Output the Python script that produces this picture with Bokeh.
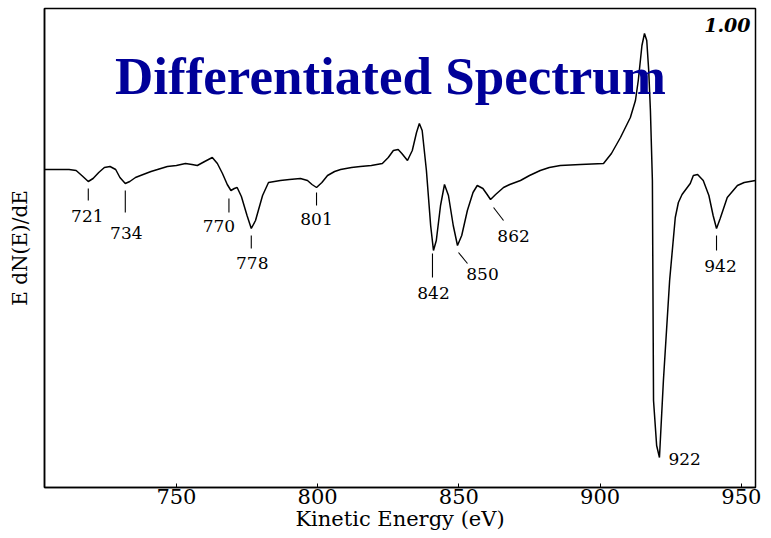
from bokeh.plotting import figure
from bokeh.models import Range1d, FixedTicker, Label
from bokeh.core.properties import value
from bokeh.embed import file_html
from bokeh.resources import INLINE
import numpy as np

# ---- data (kinetic energy in eV, derivative signal in arbitrary units)
energy = [703.3, 708.0, 712.0, 714.5, 716.5, 718.8, 720.5, 722.5, 724.5, 726.5,
          728.5, 730.0, 731.9, 733.5, 735.5, 737.3, 741.0, 746.8, 750.0, 753.2,
          755.5, 757.4, 760.0, 762.7, 764.5, 766.3, 768.0, 769.3, 770.5, 771.5,
          773.0, 775.0, 776.5, 778.0, 779.0, 780.5, 782.6, 786.8, 790.0, 793.9,
          796.4, 798.0, 799.6, 801.5, 803.5, 806.0, 808.1, 812.0, 815.1, 819.0,
          822.9, 825.0, 826.8, 828.5, 829.8, 831.8, 833.5, 835.0, 836.0, 837.0,
          838.5, 840.0, 841.0, 842.0, 843.5, 844.9, 846.3, 848.0, 849.5, 851.0,
          853.0, 855.0, 856.5, 858.5, 860.0, 861.2, 863.0, 865.8, 868.0, 871.8,
          875.0, 878.8, 882.0, 885.9, 893.0, 901.2, 904.0, 907.2, 910.7, 912.5,
          913.5, 914.8, 915.7, 916.5, 917.2, 917.8, 918.5, 918.9, 920.0, 921.0,
          922.4, 924.6, 926.6, 927.7, 929.0, 931.9, 933.0, 934.5, 936.5, 938.5,
          940.0, 941.2, 942.5, 945.0, 948.6, 951.0, 955.0]
signal = [1, 1, 1, 0, -5, -11, -8, -2, 3, 4,
          1, -7, -13, -11, -7, -5, -1, 4, 5, 7,
          6, 5, 9, 13, 7, -3, -14, -20, -18, -17,
          -26, -45, -58, -50, -40, -25, -12, -10, -9, -8,
          -10, -14, -17, -12, -5, -1, 1, 3, 4, 5,
          7, 13, 20, 21, 17, 10, 20, 38, 47, 40,
          0, -55, -80, -70, -35, -14, -25, -55, -75, -65,
          -40, -22, -15, -18, -24, -29, -24, -17, -14, -10,
          -5, 0, 3, 5, 6, 7, 17, 33, 53, 70,
          90, 125, 137, 130, 100, 60, -10, -230, -275, -287,
          -210, -110, -47, -32, -24, -13, -5, -4, -10, -25,
          -45, -58, -48, -27, -15, -12, -10]

peak_labels = ["721", "734", "770", "778", "801", "842", "850", "862", "922", "942"]
peak_energy = [718.8, 731.9, 769.3, 776.5, 799.6, 841.0, 849.5, 861.2, 921.0, 941.2]

x_ticks = [750, 800, 850, 900, 950]

# ---- label styling (pixel offsets from each peak: leader line start/end, text centre)
lead = [(0, 7, 0, 19), (0, 7, 0, 29), (-2, 8, -2, 22), (0, 7, 0, 20), (0, 5, 0, 18),
        (-1, 3, -1, 27), (1, 7, 10, 18), (3, 8, 13, 21), None, (0, 7, 0, 22)]
txt_off = [(-1, 34), (1, 49), (-12, 35), (1, 34), (0, 31),
           (0, 42), (25, 28), (23, 36), (9, 1), (4, 37)]
txt_align = ["center"] * 8 + ["left", "center"]

X0, X1 = 703.3, 955.0
Y0, Y1 = -317, 162
W, H = 763, 538
BL, BR, BT, BB = 44, 8, 8, 51

p = figure(width=W, height=H, output_backend="svg", toolbar_location=None,
           x_range=Range1d(X0, X1), y_range=Range1d(Y0, Y1),
           min_border_left=BL, min_border_right=BR, min_border_top=BT, min_border_bottom=BB,
           background_fill_color="white", border_fill_color="white")
p.grid.visible = False
p.outline_line_color = "black"
p.outline_line_width = 1.5

serif = "DejaVu Serif"
p.xaxis.ticker = FixedTicker(ticks=x_ticks)
p.xaxis.minor_tick_line_color = None
p.xaxis.major_tick_in = 4
p.xaxis.major_tick_out = 0
p.xaxis.major_tick_line_color = "black"
p.xaxis.axis_line_color = "black"
p.xaxis.axis_line_width = 1.5
p.xaxis.major_label_text_font = serif
p.xaxis.major_label_text_font_size = "21px"
p.xaxis.major_label_text_color = "black"
p.xaxis.major_label_standoff = 1
p.xaxis.axis_label = "Kinetic Energy (eV)"
p.xaxis.axis_label_text_font = serif
p.xaxis.axis_label_text_font_size = "21px"
p.xaxis.axis_label_text_font_style = "normal"
p.xaxis.axis_label_text_color = "black"
p.xaxis.axis_label_standoff = 0

p.yaxis.ticker = FixedTicker(ticks=[])
p.yaxis.minor_tick_line_color = None
p.yaxis.axis_line_color = "black"
p.yaxis.axis_line_width = 1.5
p.yaxis.axis_label = "E dN(E)/dE"
p.yaxis.axis_label_text_font = serif
p.yaxis.axis_label_text_font_size = "20px"
p.yaxis.axis_label_text_font_style = "normal"
p.yaxis.axis_label_text_color = "black"
p.yaxis.axis_label_standoff = 13

p.line(energy, signal, line_color="black", line_width=1.5)

# peak annotations anchored on the curve
fw = W - BL - BR
fh = H - BT - BB
kx = fw / (X1 - X0)
ky = fh / (Y1 - Y0)
anchor_y = np.interp(peak_energy, energy, signal)

sx0, sy0, sx1, sy1 = [], [], [], []
for e, a, l in zip(peak_energy, anchor_y, lead):
    if l is None:
        continue
    dx0, dy0, dx1, dy1 = l
    sx0.append(e + dx0 / kx); sy0.append(a - dy0 / ky)
    sx1.append(e + dx1 / kx); sy1.append(a - dy1 / ky)
p.segment(sx0, sy0, sx1, sy1, line_color="black", line_width=1.1)

for lab, e, a, (dx, dy), al in zip(peak_labels, peak_energy, anchor_y, txt_off, txt_align):
    p.text(x=[e], y=[a], text=[lab], x_offset=dx, y_offset=dy,
           text_align=al, text_baseline="middle",
           text_font=value(serif), text_font_size="17px", text_color="black")

# chart title overlaid on the plot
p.add_layout(Label(x=346, y=412, x_units="screen", y_units="screen",
                   text="Differentiated Spectrum", text_align="center",
                   text_baseline="alphabetic", text_font="Liberation Serif",
                   text_font_size="53px", text_font_style="bold", text_color="#000099"))
p.add_layout(Label(x=706, y=463, x_units="screen", y_units="screen",
                   text="1.00", text_align="right", text_baseline="alphabetic",
                   text_font=serif, text_font_size="19px",
                   text_font_style="bold italic", text_color="black"))

open("out.html", "w").write(file_html(p, INLINE))
